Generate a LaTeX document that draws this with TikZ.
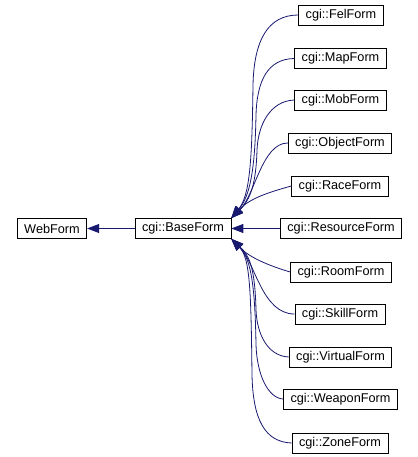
\documentclass[tikz,border=0pt]{standalone}
\usepackage{fontspec}
\setmainfont{Liberation Sans}
\usetikzlibrary{arrows.meta}
\definecolor{edgeblue}{HTML}{191970}
\tikzset{
  cls/.style={draw=black,line width=0.8pt,fill=white,minimum height=20pt,inner xsep=7pt,inner ysep=0pt,font=\fontsize{12.7}{14}\selectfont},
  edge/.style={edgeblue,line width=0.8pt,-{Triangle[length=12pt,width=9pt]}}
}
\begin{document}
\begin{tikzpicture}[x=1pt,y=-1pt]
\useasboundingbox (0,0) rectangle (417,457);
\node[cls] (web) at (52,228.5) {WebForm};
\node[cls] (base) at (183,228.5) {cgi::BaseForm};
\node[cls] (fel) at (341,15) {cgi::FelForm};
\node[cls] (map) at (340.5,58.5) {cgi::MapForm};
\node[cls] (mob) at (340.5,100) {cgi::MobForm};
\node[cls] (object) at (340,143) {cgi::ObjectForm};
\node[cls] (race) at (340,186) {cgi::RaceForm};
\node[cls] (resource) at (341,228.5) {cgi::ResourceForm};
\node[cls] (room) at (341,272) {cgi::RoomForm};
\node[cls] (skill) at (340,314) {cgi::SkillForm};
\node[cls] (virtual) at (340.5,357) {cgi::VirtualForm};
\node[cls] (weapon) at (340.5,399) {cgi::WeaponForm};
\node[cls] (zone) at (340,443) {cgi::ZoneForm};
\draw[edge] (base) -- (web);
% upper fan
\draw[edge] (fel.west) .. controls (268,15) and (254,40) .. (253,85) .. controls (252,160) and (250,195) .. (base.north east);
\draw[edge] (map.west) .. controls (268,59) and (257,80) .. (256,115) .. controls (255,170) and (250,196) .. (base.north east);
\draw[edge] (mob.west) .. controls (270,101) and (258,125) .. (257,150) .. controls (256,185) and (250,200) .. (base.north east);
\draw[edge] (object.west) .. controls (262,143) and (255,195) .. (base.north east);
\draw[edge] (race.west) .. controls (270,192) and (250,198) .. (base.north east);
\draw[edge] (resource) -- (base);
% lower fan
\draw[edge] (room.west) .. controls (270,266) and (250,258) .. (base.south east);
\draw[edge] (skill.west) .. controls (262,314) and (255,262) .. (base.south east);
\draw[edge] (virtual.west) .. controls (268,356) and (257,335) .. (256,310) .. controls (255,270) and (250,256) .. (base.south east);
\draw[edge] (weapon.west) .. controls (268,398) and (257,375) .. (256,345) .. controls (255,280) and (250,258) .. (base.south east);
\draw[edge] (zone.west) .. controls (265,442) and (253,420) .. (252,375) .. controls (251,290) and (250,258) .. (base.south east);
\end{tikzpicture}
\end{document}
